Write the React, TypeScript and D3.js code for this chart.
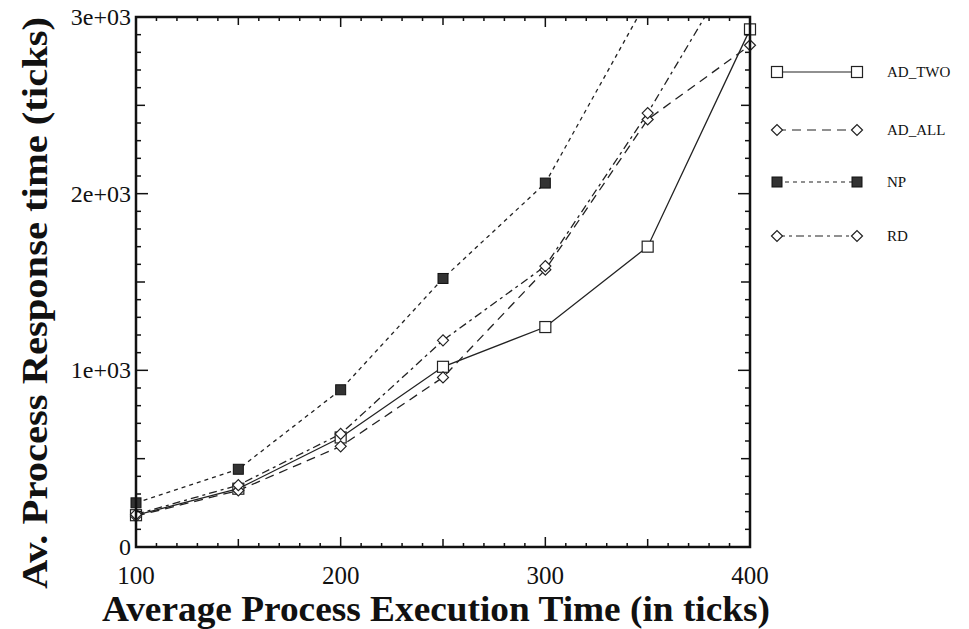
import React from "react";
import * as d3 from "d3";

const xValues = [100, 150, 200, 250, 300, 350, 400];
const adTwo = [180, 330, 620, 1020, 1245, 1700, 2930];
const adAll = [175, 320, 570, 960, 1570, 2420, 2840];
const np = [250, 440, 890, 1520, 2060, 3100, 4300];
const rd = [185, 350, 640, 1170, 1590, 2456, 3430];
const seriesNames = ["AD_TWO", "AD_ALL", "NP", "RD"];
const xTicks = [100, 200, 300, 400];
const yTicks = [0, 1000, 2000, 3000];
const yTickLabels = ["0", "1e+03", "2e+03", "3e+03"];

const W = 969, H = 629;
const L = 136, R = 750, T = 17, B = 547;

export default function App() {
  const x = d3.scaleLinear().domain([100, 400]).range([L, R]);
  const y = d3.scaleLinear().domain([0, 3000]).range([B, T]);
  const line = d3.line<[number, number]>().x(d => x(d[0])).y(d => y(d[1]));
  const data = [adTwo, adAll, np, rd];
  const dashes = ["", "9,6", "4,4", "8,4,3,4"];
  const serif = "'Liberation Serif', 'Times New Roman', serif";

  const marker = (kind: number, cx: number, cy: number, key: string) => {
    if (kind === 0) return <rect key={key} x={cx - 5.5} y={cy - 5.5} width={11} height={11} fill="white" stroke="#222" strokeWidth={1.2} />;
    if (kind === 2) return <rect key={key} x={cx - 5} y={cy - 5} width={10} height={10} fill="#333" stroke="#111" strokeWidth={1} />;
    const s = 5.5;
    return <path key={key} d={`M${cx - s},${cy} L${cx},${cy - s} L${cx + s},${cy} L${cx},${cy + s} Z`} fill="white" stroke="#222" strokeWidth={1.2} />;
  };

  const xMinor = d3.range(100, 401, 10);
  const yMinor = d3.range(0, 3001, 100);
  const legendY = [72, 130, 182, 236];

  return (
    <svg width={W} height={H} style={{ position: "absolute", left: 0, top: 0, background: "white" }}>
      <defs>
        <clipPath id="plot"><rect x={L} y={T} width={R - L} height={B - T} /></clipPath>
      </defs>
      <g clipPath="url(#plot)">
        {data.map((d, i) => (
          <path key={i} d={line(xValues.map((v, j) => [v, d[j]]) as [number, number][]) || ""} fill="none" stroke="#222" strokeWidth={1.3} strokeDasharray={dashes[i]} />
        ))}
      </g>
      {data.map((d, i) => xValues.map((v, j) => d[j] <= 3000 ? marker(i, x(v), y(d[j]), `m${i}-${j}`) : null))}
      {xMinor.map(v => {
        const len = v % 100 === 0 ? 10 : v % 50 === 0 ? 8 : 4;
        return (
          <g key={"xt" + v} stroke="#111" strokeWidth={1.5}>
            <line x1={x(v)} x2={x(v)} y1={B} y2={B - len} />
            <line x1={x(v)} x2={x(v)} y1={T} y2={T + len} />
          </g>
        );
      })}
      {yMinor.map(v => {
        const len = v % 1000 === 0 ? 12 : v % 500 === 0 ? 9 : 5;
        return (
          <g key={"yt" + v} stroke="#111" strokeWidth={1.5}>
            <line x1={L} x2={L + len} y1={y(v)} y2={y(v)} />
            <line x1={R} x2={R - len} y1={y(v)} y2={y(v)} />
          </g>
        );
      })}
      <rect x={L} y={T} width={R - L} height={B - T} fill="none" stroke="#111" strokeWidth={2.5} />
      {xTicks.map(v => (
        <text key={"xl" + v} x={x(v)} y={584} textAnchor="middle" fontFamily={serif} fontSize={25} fill="#111">{v}</text>
      ))}
      {yTicks.map((v, i) => (
        <text key={"yl" + v} x={L - 5} y={y(v) + 8} textAnchor="end" fontFamily={serif} fontSize={24} fill="#111">{yTickLabels[i]}</text>
      ))}
      <text x={436} y={621} textAnchor="middle" fontFamily={serif} fontSize={35} fontWeight="bold" fill="#111" textLength={668} lengthAdjust="spacingAndGlyphs">Average Process Execution Time (in ticks)</text>
      <text transform={`translate(47,${303}) rotate(-90)`} textAnchor="middle" fontFamily={serif} fontSize={36} fontWeight="bold" fill="#111" textLength={572} lengthAdjust="spacingAndGlyphs">Av. Process Response time (ticks)</text>
      {seriesNames.map((n, i) => (
        <g key={"lg" + n}>
          <line x1={777} x2={857} y1={legendY[i]} y2={legendY[i]} stroke="#222" strokeWidth={1.2} strokeDasharray={dashes[i]} />
          {marker(i, 777, legendY[i], "la" + i)}
          {marker(i, 857, legendY[i], "lb" + i)}
          <text x={887} y={legendY[i] + 5} fontFamily={serif} fontSize={15} fill="#111">{n}</text>
        </g>
      ))}
    </svg>
  );
}
